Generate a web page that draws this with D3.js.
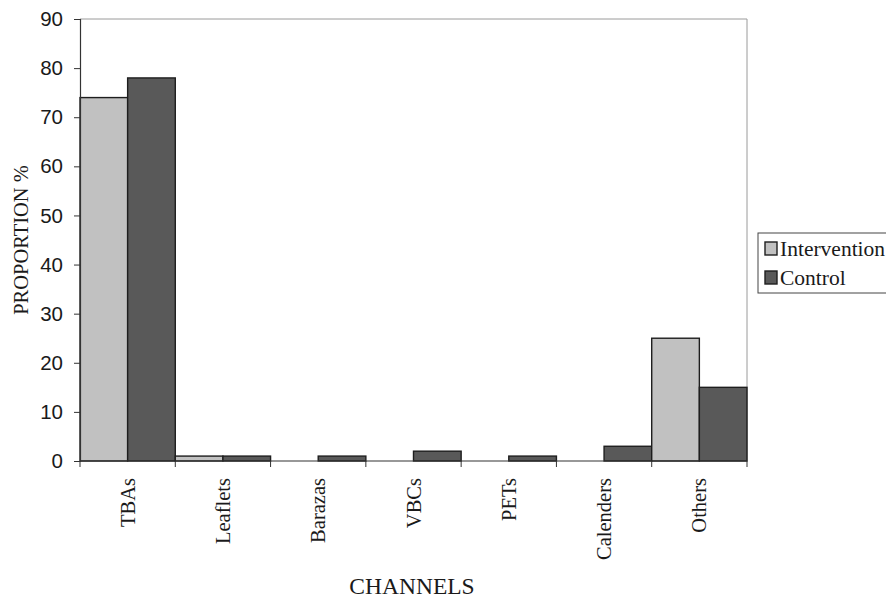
<!DOCTYPE html>
<html>
<head>
<meta charset="utf-8">
<script src="https://cdn.jsdelivr.net/npm/d3@7"></script>
<style>
  html, body { margin: 0; padding: 0; background: #fff; }
  svg { display: block; }
</style>
</head>
<body>
<svg id="chart" width="886" height="599"></svg>
<script>
// Communication channels and the share of respondents per study arm
const categories = ["TBAs", "Leaflets", "Barazas", "VBCs", "PETs", "Calenders", "Others"];
const seriesNames = ["Intervention", "Control"];
const intervention = [74, 1, 0, 0, 0, 0, 25];
const control = [78, 1, 1, 2, 1, 3, 15];
const yTicks = [0, 10, 20, 30, 40, 50, 60, 70, 80, 90];
const seriesColors = ["#c1c1c1", "#595959"];

const SERIF = "Liberation Serif, Times New Roman, serif";
const SANS = "Liberation Sans, Arial, sans-serif";

const svg = d3.select("#chart");
const margin = { left: 80, right: 747, top: 19, bottom: 461 };

const x = d3.scaleBand().domain(categories).range([margin.left, margin.right]).padding(0);
const xi = d3.scaleBand().domain(seriesNames).range([0, x.bandwidth()]).padding(0);
const y = d3.scaleLinear().domain([0, 90]).range([margin.bottom, margin.top]);

// plot frame (top and right edges)
svg.append("path")
  .attr("d", `M${margin.left},${margin.top}H${margin.right}V${margin.bottom}`)
  .attr("fill", "none").attr("stroke", "#9a9a9a").attr("stroke-width", 1);

// bars
const rows = categories.map((c, i) => ({ c, vals: [intervention[i], control[i]] }));
const groups = svg.append("g").selectAll("g").data(rows).join("g")
  .attr("transform", d => `translate(${x(d.c)},0)`);
groups.selectAll("rect")
  .data(d => d.vals.map((v, k) => ({ v, s: seriesNames[k], k })).filter(e => e.v > 0))
  .join("rect")
  .attr("x", e => xi(e.s))
  .attr("width", xi.bandwidth())
  .attr("y", e => y(e.v))
  .attr("height", e => y(0) - y(e.v))
  .attr("fill", e => seriesColors[e.k])
  .attr("stroke", "#1e1e1e")
  .attr("stroke-width", 1.4);

// y axis
const yAxis = svg.append("g")
  .attr("transform", `translate(${margin.left},0)`)
  .call(d3.axisLeft(y).tickValues(yTicks).tickSize(6).tickPadding(11));
yAxis.select(".domain").attr("stroke", "#333").attr("stroke-width", 1.2);
yAxis.selectAll(".tick line").attr("stroke", "#333");
yAxis.selectAll("text")
  .style("font-family", SANS)
  .style("font-size", "20.5px").attr("fill", "#1a1a1a");

// x axis: ticks at band boundaries
const xAxisG = svg.append("g").attr("transform", `translate(0,${margin.bottom})`);
xAxisG.append("line")
  .attr("x1", margin.left).attr("x2", margin.right)
  .attr("stroke", "#333").attr("stroke-width", 1.2);
const bounds = categories.map(c => x(c)).concat([x(categories[categories.length - 1]) + x.bandwidth()]);
xAxisG.selectAll("line.tk").data(bounds).join("line")
  .attr("class", "tk")
  .attr("x1", d => d).attr("x2", d => d).attr("y1", 0).attr("y2", 6)
  .attr("stroke", "#333");
xAxisG.selectAll("text").data(categories).join("text")
  .attr("transform", d => `translate(${x(d) + x.bandwidth() / 2 + 7},17) rotate(-90)`)
  .attr("text-anchor", "end")
  .style("font-family", SERIF)
  .style("font-size", "20.5px").attr("fill", "#1a1a1a")
  .text(d => d);

// axis titles
svg.append("text")
  .attr("transform", "translate(28,240) rotate(-90)")
  .attr("text-anchor", "middle")
  .style("font-family", SERIF)
  .style("font-size", "20.5px").attr("fill", "#1a1a1a")
  .text("PROPORTION %");
svg.append("text")
  .attr("x", 412).attr("y", 594)
  .attr("text-anchor", "middle")
  .style("font-family", SERIF)
  .style("font-size", "23.5px").attr("fill", "#1a1a1a")
  .text("CHANNELS");

// legend
const legend = svg.append("g").attr("transform", "translate(758,233)");
legend.append("rect").attr("x", 0).attr("y", 0).attr("width", 140).attr("height", 60)
  .attr("fill", "none").attr("stroke", "#444").attr("stroke-width", 1);
seriesNames.forEach((name, k) => {
  const row = legend.append("g").attr("transform", `translate(7,${9 + k * 29})`);
  row.append("rect").attr("width", 12).attr("height", 13)
    .attr("fill", seriesColors[k]).attr("stroke", "#1e1e1e").attr("stroke-width", 1.4);
  row.append("text").attr("x", 15).attr("y", 14)
    .style("font-family", SERIF)
    .style("font-size", "21.5px").attr("fill", "#1a1a1a")
    .text(name);
});
</script>
</body>
</html>
